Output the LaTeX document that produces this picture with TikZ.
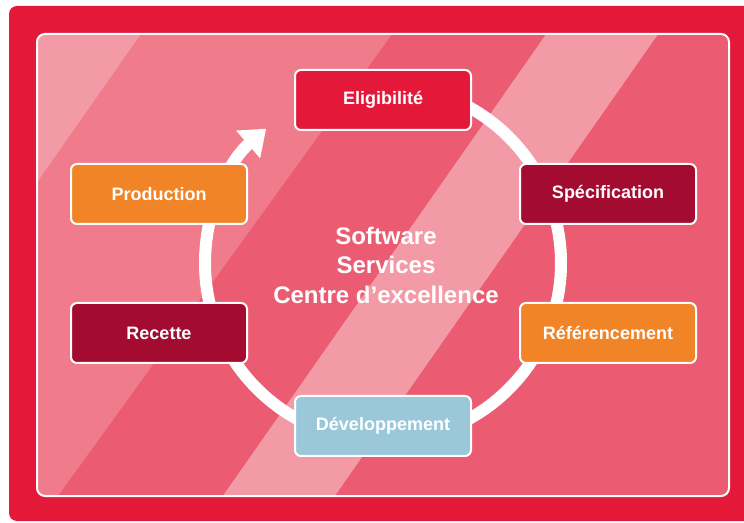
\documentclass[tikz,border=0pt]{standalone}
\usepackage{fontspec}
\setmainfont{Liberation Sans}
\usepackage{xcolor}
\usetikzlibrary{arrows.meta,positioning}

\definecolor{cerise}{HTML}{E4193A}
\definecolor{bordeaux}{HTML}{A30B31}
\definecolor{mandarine}{HTML}{F18427}
\definecolor{glacier}{HTML}{9AC8D8}
\definecolor{rosepale}{HTML}{F29BA7}
\definecolor{rosemid}{HTML}{EF7B8B}
\definecolor{rosedark}{HTML}{EB5C72}

\begin{document}
\begin{tikzpicture}[x=1pt,y=1pt,
    phase/.style={draw=white, line width=2pt, rounded corners=6pt,
        minimum width=176pt, minimum height=60pt, text=white,
        font=\fontsize{18}{21}\selectfont\bfseries},
    hubtext/.style={text=white, align=center,
        font=\fontsize{24}{29.5}\selectfont\bfseries}]
    \useasboundingbox (0,0) rectangle (744,522);
    % frame
    \begin{scope}
        \clip (0,0) rectangle (744,522);
        \fill[cerise, rounded corners=8pt] (9,1) rectangle (760,516);
    \end{scope}
    % striped panel
    \begin{scope}
        \clip[rounded corners=8pt] (37,26) rectangle (729,488);
        \fill[rosedark] (37,26) rectangle (729,488);
        \fill[rosepale] (0,492) -- (144,492) -- (-185,22) -- (0,22) -- cycle;
        \fill[rosemid] (144,492) -- (395,492) -- (55,22) -- (-185,22) -- cycle;
        \fill[rosepale] (549,492) -- (661,492) -- (332,22) -- (220,22) -- cycle;
    \end{scope}
    \draw[white, line width=2pt, rounded corners=8pt] (37,26) rectangle (729,488);
    % cycle
    \coordinate (hub) at (383,259);
    \draw[white, line width=12pt, -{Triangle[width=35pt,length=24pt]}]
        ([shift={(90:178)}]hub) arc[start angle=90, end angle=-229, radius=178];
    \node[phase, fill=cerise] (elig) at (383,422) {Eligibilité};
    \node[phase, fill=bordeaux] (spec) at (608,328) {Spécification};
    \node[phase, fill=mandarine] (ref) at (608,189) {Référencement};
    \node[phase, fill=glacier] (dev) at (383,96) {Développement};
    \node[phase, fill=bordeaux] (rec) at (159,189) {Recette};
    \node[phase, fill=mandarine] (prod) at (159,328) {Production};
    \node[hubtext] (centre) at (386,257) {Software\\Services\\Centre d’excellence};
\end{tikzpicture}
\end{document}
